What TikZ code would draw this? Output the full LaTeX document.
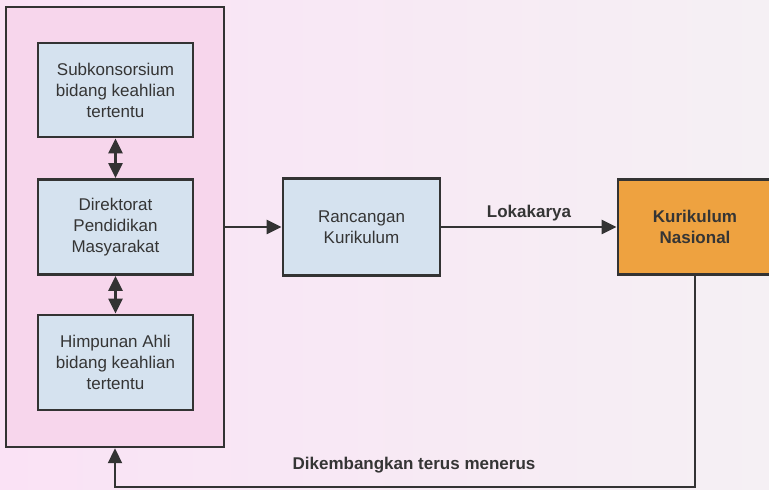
\documentclass[tikz,border=0pt]{standalone}
\usepackage{fontspec}
\setmainfont{Liberation Sans}
\usetikzlibrary{arrows.meta}

\definecolor{bgleft}{HTML}{FAE2F5}
\definecolor{bgright}{HTML}{F5F0F4}
\definecolor{grouppink}{HTML}{F7D6EC}
\definecolor{boxblue}{HTML}{D5E2EF}
\definecolor{boxorange}{HTML}{EEA240}
\definecolor{ink}{HTML}{333333}
\definecolor{textgray}{HTML}{353535}

\tikzset{
  every node/.style={text=textgray},
  stagebox/.style={draw=ink, line width=2.8pt, fill=boxblue, align=center,
    inner sep=0pt, font=\fontsize{17}{21}\selectfont},
  groupbox/.style={draw=ink, line width=2.5pt, fill=grouppink, inner sep=0pt},
  finalbox/.style={stagebox, fill=boxorange, font=\fontsize{17}{21}\selectfont\bfseries},
  flow/.style={draw=ink, line width=2.3pt, -{Triangle[length=15pt,width=14pt]}},
  twoway/.style={draw=ink, line width=2.3pt,
    {Triangle[length=15pt,width=14pt]}-{Triangle[length=15pt,width=14pt]}},
  edgelabel/.style={font=\fontsize{17}{21}\selectfont\bfseries}
}

\begin{document}
\begin{tikzpicture}[x=1pt,y=1pt]
  % page area and soft background
  \useasboundingbox (0,0) rectangle (769,490);
  \shade[left color=bgleft, right color=bgright] (0,0) rectangle (769,490);

  % grouping frame with the three bodies
  \node[groupbox, minimum width=218pt, minimum height=440pt] (group) at (115,263) {};
  \node[stagebox, minimum width=155pt, minimum height=94pt] (subkons) at (115.5,400)
    {Subkonsorsium\\bidang keahlian\\tertentu};
  \node[stagebox, minimum width=155pt, minimum height=95pt] (direktorat) at (115.5,263)
    {Direktorat\\Pendidikan\\Masyarakat};
  \node[stagebox, minimum width=155pt, minimum height=95pt] (himpunan) at (115.5,127.5)
    {Himpunan Ahli\\bidang keahlian\\tertentu};

  \draw[twoway] (subkons.south) -- (direktorat.north);
  \draw[twoway] (direktorat.south) -- (himpunan.north);

  % main flow
  \node[stagebox, minimum width=157pt, minimum height=97pt] (rancangan) at (361.5,263)
    {Rancangan\\Kurikulum};
  \node[finalbox, minimum width=154pt, minimum height=95pt] (nasional) at (695,263)
    {Kurikulum\\Nasional};

  \draw[flow] (group.east) -- (rancangan.west);
  \draw[flow] (rancangan.east) -- node[edgelabel, above=1.5pt] (lokakarya) {Lokakarya} (nasional.west);

  % feedback loop
  \coordinate (loopright) at (nasional.south |- 0,3);
  \coordinate (loopleft) at (group.south |- 0,3);
  \draw[flow] (nasional.south) -- (loopright) -- (loopleft) -- (group.south);
  \node[edgelabel] (loopnote) at (414,25) {Dikembangkan terus menerus};
\end{tikzpicture}
\end{document}
